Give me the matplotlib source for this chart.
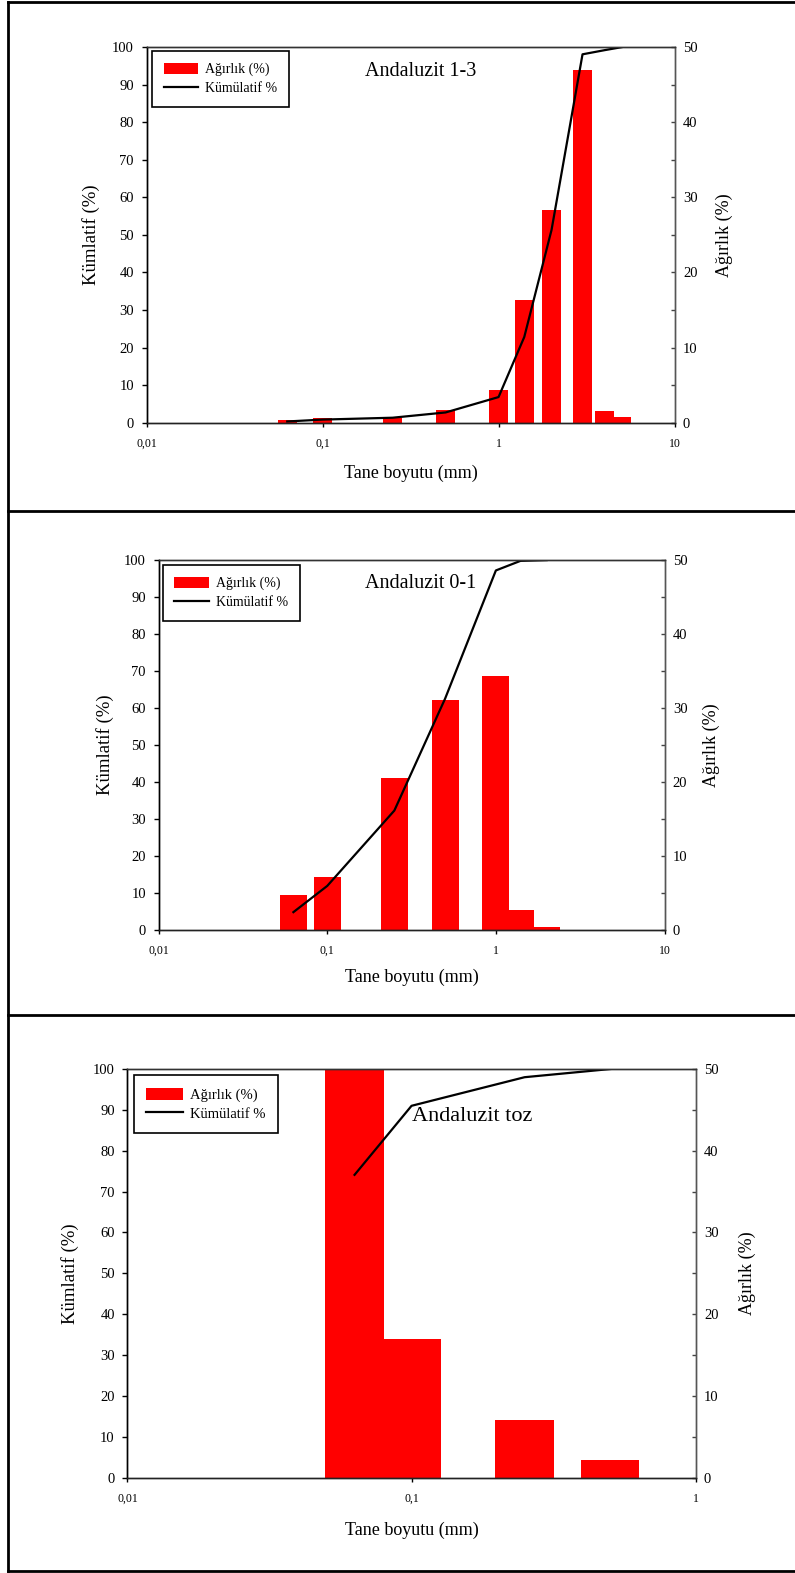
import numpy as np
import matplotlib
matplotlib.use('Agg')
import matplotlib.pyplot as plt
from matplotlib.lines import Line2D
from matplotlib.ticker import FixedLocator, MultipleLocator, NullLocator

plt.rcParams['font.family'] = ['Liberation Serif', 'DejaVu Serif']

W, H = 795, 1573
SC = 795 / 792  # reference coords were read from the 792 px wide view

# =============================================================================
# DATA
# =============================================================================
# Andaluzit 1-3
size_13 = [0.063, 0.1, 0.25, 0.5, 1.0, 1.4, 2.0, 3.0, 4.0, 5.0]
agirlik_13 = [0.4, 0.6, 0.6, 1.7, 4.3, 16.3, 28.3, 46.9, 1.5, 0.7]
kumul_13 = [0.3, 0.8, 1.3, 2.7, 6.8, 22.8, 51.3, 98.1, 99.2, 100.0]

# Andaluzit 0-1
size_01 = [0.063, 0.1, 0.25, 0.5, 1.0, 1.4, 2.0]
agirlik_01 = [4.7, 7.1, 20.5, 31.1, 34.3, 2.7, 0.35]
kumul_01 = [4.7, 11.8, 32.2, 62.5, 97.2, 99.8, 100.0]

# Andaluzit toz
size_toz = [0.063, 0.1, 0.25, 0.5]
agirlik_toz = [74.0, 17.0, 7.1, 2.1]
kumul_toz = [74.1, 91.0, 98.0, 100.0]

x_ticks_10 = [0.01, 0.1, 1, 10]
x_labels_10 = ['0,01', '0,1', '1', '10']
x_ticks_1 = [0.01, 0.1, 1]
x_labels_1 = ['0,01', '0,1', '1']


def px_rect(l, t, r, b):
    l, t, r, b = l * SC, t * SC, r * SC, b * SC
    return [l / W, 1 - b / H, (r - l) / W, (b - t) / H]


def draw_panel(fig, rect, sizes, weights, cumul, title, xticks, xlabels,
               bar_w, title_pos, title_fs, leg_anchor, leg_fs, lab_x):
    ax = fig.add_axes(px_rect(*rect))
    ax2 = ax.twinx()

    sizes = np.array(sizes)
    left = sizes * 10 ** (-bar_w / 2)
    width = sizes * 10 ** (bar_w / 2) - left
    bars = ax2.bar(left, weights, width=width, align='edge', color='#ff0000',
                   edgecolor='none', label='Ağırlık (%)')
    line, = ax.plot(sizes, cumul, color='black', lw=1.6, label='Kümülatif %')

    ax.set_zorder(ax2.get_zorder() + 1)
    ax.patch.set_visible(False)

    ax.set_xscale('log')
    ax.set_xlim(xticks[0], xticks[-1])
    ax.xaxis.set_major_locator(FixedLocator(xticks))
    ax.xaxis.set_minor_locator(NullLocator())
    ax.set_xticklabels(xlabels)
    ax.set_ylim(0, 100)
    ax2.set_ylim(0, 50)
    ax.yaxis.set_major_locator(MultipleLocator(10))
    ax2.yaxis.set_major_locator(MultipleLocator(10))
    ax2.yaxis.set_minor_locator(MultipleLocator(5))

    ax.tick_params(axis='x', direction='out', length=3, width=1, pad=8,
                   labelsize=8.5)
    ax.tick_params(axis='y', direction='out', length=3.6, width=1, pad=5.5,
                   labelsize=10.5)
    ax2.tick_params(axis='y', which='both', direction='in', length=3,
                    width=1, pad=6, labelsize=10.5, color='#444444')

    for a in (ax, ax2):
        a.spines['left'].set_color('black')
        a.spines['bottom'].set_color('#222222')
        a.spines['top'].set_color('#333333')
        a.spines['right'].set_color('#555555')
        for s in a.spines.values():
            s.set_linewidth(1.0)

    ax.set_xlabel('Tane boyutu (mm)', fontsize=13)
    ax.set_ylabel('Kümlatif (%)', fontsize=13.5)
    ax2.set_ylabel('Ağırlık (%)', fontsize=13)
    ax.xaxis.set_label_coords(0.5, lab_x[2])
    ax.yaxis.set_label_coords(lab_x[0], 0.5)
    ax2.yaxis.set_label_coords(lab_x[1], 0.5)
    ax2.yaxis.label.set_rotation(90)

    ax.text(title_pos[0], title_pos[1], title, transform=ax.transAxes,
            ha='center', va='center', fontsize=title_fs)

    leg = ax.legend([bars, line], ['Ağırlık (%)', 'Kümülatif %'],
                    loc='upper left', bbox_to_anchor=leg_anchor,
                    borderaxespad=0, fontsize=leg_fs, fancybox=False,
                    framealpha=1, edgecolor='black', handlelength=2.5,
                    handleheight=0.9, handletextpad=0.5, labelspacing=0.35,
                    borderpad=0.85)
    leg.get_frame().set_linewidth(1.2)
    return ax


fig = plt.figure(figsize=(W / 100, H / 100), dpi=100)

# panel frame lines
frame = [
    ([8 / W, 1.0], [1 - 1.5 / H, 1 - 1.5 / H]),
    ([8 / W, 1.0], [1 - 511 / H, 1 - 511 / H]),
    ([8 / W, 1.0], [1 - 1015 / H, 1 - 1015 / H]),
    ([8 / W, 1.0], [1 - 1571 / H, 1 - 1571 / H]),
    ([8 / W, 8 / W], [1 - 1571 / H, 1 - 1.5 / H]),
]
for xs, ys in frame:
    fig.add_artist(Line2D(xs, ys, transform=fig.transFigure, color='black',
                          lw=2.0, solid_capstyle='projecting'))

draw_panel(fig, (146, 47, 672, 421), size_13, agirlik_13, kumul_13,
           'Andaluzit 1-3', x_ticks_10, x_labels_10, 0.107,
           (0.519, 0.936), 14.5, (0.01, 0.99), 10, (-0.089, 1.078, -0.112))

draw_panel(fig, (158, 558, 662, 926), size_01, agirlik_01, kumul_01,
           'Andaluzit 0-1', x_ticks_10, x_labels_10, 0.160,
           (0.518, 0.937), 14.5, (0.008, 0.987), 10, (-0.089, 1.075, -0.106))

draw_panel(fig, (127, 1065, 693, 1472), size_toz, agirlik_toz, kumul_toz,
           'Andaluzit toz', x_ticks_1, x_labels_1, 0.206,
           (0.606, 0.885), 16, (0.011, 0.985), 10.5, (-0.085, 1.076, -0.108))

plt.savefig('out.png', dpi=100)
